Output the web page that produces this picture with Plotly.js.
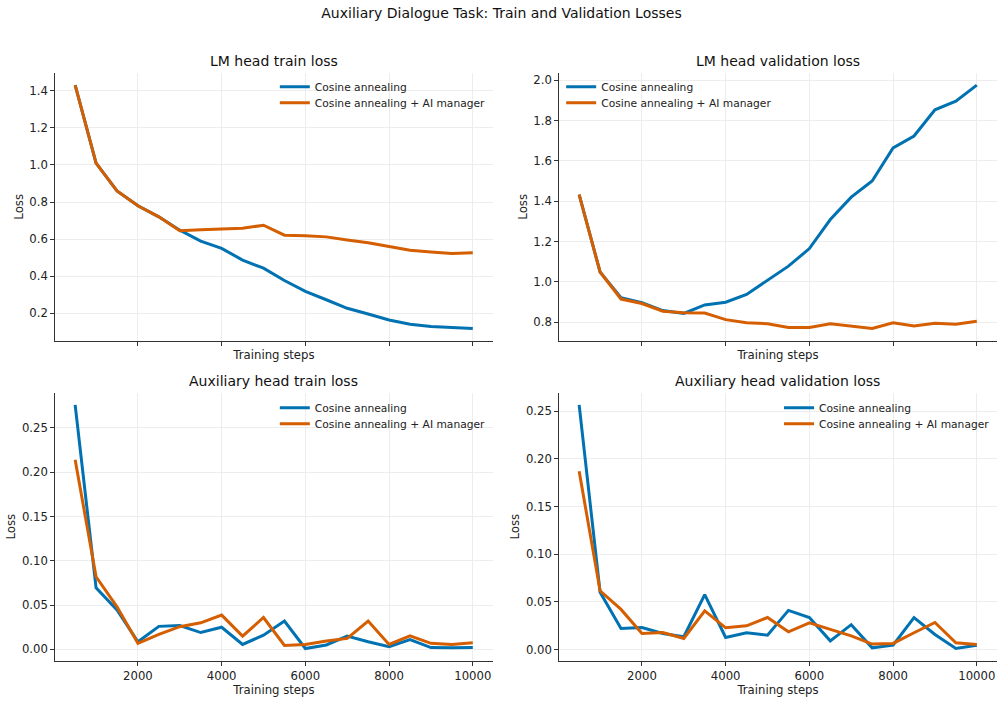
<!DOCTYPE html>
<html>
<head>
<meta charset="utf-8">
<script src="https://cdn.plot.ly/plotly-3.0.1.min.js"></script>
<style>html,body{margin:0;padding:0;background:#fff;}#chart{width:1003px;height:703px;}</style>
</head>
<body>
<div id="chart"></div>
<script>
const steps = [500,1000,1500,2000,2500,3000,3500,4000,4500,5000,5500,6000,6500,7000,7500,8000,8500,9000,9500,10000];

const seriesNames = ["Cosine annealing", "Cosine annealing + AI manager"];

const lmTrainCosine = [1.43,1.01,0.86,0.78,0.72,0.648,0.589,0.55,0.487,0.443,0.377,0.318,0.273,0.227,0.196,0.164,0.141,0.129,0.123,0.118];
const lmTrainManager = [1.43,1.01,0.86,0.78,0.72,0.645,0.65,0.655,0.658,0.675,0.621,0.618,0.612,0.595,0.58,0.56,0.54,0.53,0.522,0.527];

const lmValCosine = [1.432,1.049,0.922,0.897,0.858,0.844,0.886,0.899,0.938,1.009,1.078,1.165,1.309,1.42,1.50,1.664,1.723,1.853,1.896,1.975];
const lmValManager = [1.432,1.049,0.915,0.893,0.855,0.847,0.846,0.813,0.798,0.793,0.774,0.774,0.792,0.779,0.769,0.797,0.782,0.795,0.79,0.805];

const auxTrainCosine = [0.276,0.0695,0.0444,0.0086,0.026,0.027,0.019,0.025,0.0056,0.016,0.032,0.001,0.005,0.015,0.0086,0.003,0.011,0.002,0.0019,0.002];
const auxTrainManager = [0.214,0.082,0.048,0.0068,0.017,0.0256,0.030,0.0387,0.015,0.036,0.0045,0.0056,0.0094,0.0124,0.032,0.0056,0.0154,0.0068,0.0056,0.0075];

const auxValCosine = [0.2566,0.060,0.022,0.023,0.0168,0.0133,0.0576,0.0126,0.0175,0.015,0.041,0.0335,0.009,0.026,0.0017,0.0045,0.0335,0.0157,0.001,0.0045];
const auxValManager = [0.187,0.0615,0.042,0.0168,0.0178,0.0115,0.0405,0.0227,0.0248,0.0335,0.0185,0.028,0.021,0.0143,0.0056,0.0063,0.0175,0.0283,0.007,0.0052];

const mainTitle = "Auxiliary Dialogue Task: Train and Validation Losses";
const panelTitles = ["LM head train loss","LM head validation loss","Auxiliary head train loss","Auxiliary head validation loss"];
const xLabel = "Training steps";
const yLabel = "Loss";

const BLUE = "#0072B2", ORANGE = "#D55E00";
const FONT = "DejaVu Sans, sans-serif";
const LBL = 11.7;

const panels = [
  {a: lmTrainCosine, b: lmTrainManager, xa: "x", ya: "y", fmt: ".1f", dtick: 0.2},
  {a: lmValCosine, b: lmValManager, xa: "x2", ya: "y2", fmt: ".1f", dtick: 0.2},
  {a: auxTrainCosine, b: auxTrainManager, xa: "x3", ya: "y3", fmt: ".2f", dtick: 0.05},
  {a: auxValCosine, b: auxValManager, xa: "x4", ya: "y4", fmt: ".2f", dtick: 0.05}
];

const traces = [];
let lg = 1;
panels.forEach(p => {
  [[p.a, BLUE, seriesNames[0]], [p.b, ORANGE, seriesNames[1]]].forEach(([ys, c, n]) => {
    traces.push({x: steps, y: ys, type: "scatter", mode: "lines", name: n,
      line: {color: c, width: 3}, xaxis: p.xa, yaxis: p.ya,
      legend: lg === 1 ? "legend" : "legend" + lg, hoverinfo: "skip"});
    lg++;
  });
});

function pad(arr) {
  const mn = Math.min(...arr), mx = Math.max(...arr), m = (mx - mn) * 0.05;
  return [mn - m, mx + m];
}
const xr = pad(steps);

const colDom = [[0.0551, 0.4912], [0.5576, 0.9937]];
const rowDom = [[0.5154, 0.8962], [0.0602, 0.4414]];

function xax(i, showLabels, anchor) {
  return {domain: colDom[i % 2], range: xr, anchor: anchor, tick0: 0, dtick: 2000, tickformat: "d",
    showticklabels: showLabels, ticks: "outside", ticklen: 4, tickwidth: 1, tickcolor: "#333",
    showline: true, linecolor: "#333", linewidth: 1, mirror: false,
    showgrid: true, gridcolor: "#e8e8e8", gridwidth: 0.8, zeroline: false,
    tickfont: {family: FONT, size: LBL, color: "#222"},
    title: {text: xLabel, font: {family: FONT, size: LBL, color: "#222"}, standoff: showLabels ? 1 : 6}};
}
function yax(i, anchor) {
  const p = panels[i];
  return {domain: rowDom[Math.floor(i / 2)], range: pad(p.a.concat(p.b)), anchor: anchor,
    tick0: 0, dtick: p.dtick, tickformat: p.fmt,
    ticks: "outside", ticklen: 4, tickwidth: 1, tickcolor: "#333",
    showline: true, linecolor: "#333", linewidth: 1,
    showgrid: true, gridcolor: "#e8e8e8", gridwidth: 0.8, zeroline: false,
    tickfont: {family: FONT, size: LBL, color: "#222"},
    title: {text: yLabel, font: {family: FONT, size: LBL, color: "#222"}, standoff: 3}};
}

function legend(x, y) {
  return {x: x, y: y, xanchor: "left", yanchor: "top", xref: "paper", yref: "paper",
    bgcolor: "rgba(255,255,255,0)", borderwidth: 0, font: {family: FONT, size: 10.7, color: "#222"},
    itemwidth: 30, tracegroupgap: 0};
}

const annotations = panelTitles.map((t, i) => ({
  text: t, showarrow: false, xref: "paper", yref: "paper",
  x: (colDom[i % 2][0] + colDom[i % 2][1]) / 2, y: rowDom[Math.floor(i / 2)][1] + 0.003,
  xanchor: "center", yanchor: "bottom", font: {family: FONT, size: 14, color: "#111"}
}));

const layout = {
  width: 1003, height: 703, margin: {l: 0, r: 0, t: 0, b: 0},
  paper_bgcolor: "#fff", plot_bgcolor: "#fff",
  font: {family: FONT, color: "#222"},
  title: {text: mainTitle, x: 0.5, xanchor: "center", y: 0.982, yanchor: "middle",
    font: {family: FONT, size: 14, color: "#111"}},
  showlegend: true,
  xaxis: xax(0, false, "y"), yaxis: yax(0, "x"),
  xaxis2: xax(1, false, "y2"), yaxis2: yax(1, "x2"),
  xaxis3: xax(2, true, "y3"), yaxis3: yax(2, "x3"),
  xaxis4: xax(3, true, "y4"), yaxis4: yax(3, "x4"),
  legend: legend(0.274, 0.8973),
  legend2: legend(0.274, 0.8745),
  legend3: legend(0.5595, 0.8973),
  legend4: legend(0.5595, 0.8745),
  legend5: legend(0.274, 0.4407),
  legend6: legend(0.274, 0.4179),
  legend7: legend(0.7767, 0.4407),
  legend8: legend(0.7767, 0.4179),
  annotations: annotations
};

Plotly.newPlot("chart", traces, layout, {displayModeBar: false, staticPlot: true});
</script>
</body>
</html>
